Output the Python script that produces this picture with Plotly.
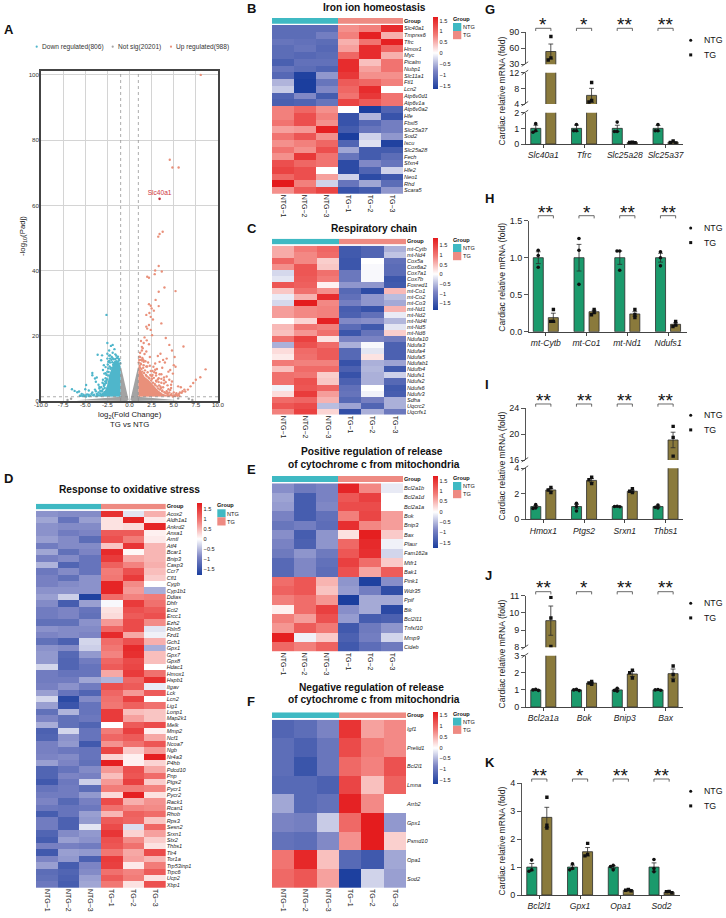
import plotly.graph_objects as go

W, H = 726, 918
FONT = "Liberation Sans"
SAMPLES = ["NTG\u22121", "NTG\u22122", "NTG\u22123", "TG\u22121", "TG\u22122", "TG\u22123"]
TEAL, SALMON = "#3FB9C3", "#EE8A82"
BAR_NTG, BAR_TG = "#1B9A6C", "#8A7A3C"

# ---------------- Volcano (panel A) ----------------
BLUE_X = [-7.3,-6.5,-6.2,-5.9,-5.7,-5.4,-5.2,-5.0,-4.8,-4.6,-4.9,-5.0,-4.6,-4.2,-4.2,-3.9,-3.8,-3.7,-3.6,-3.5,-3.4,-3.9,-4.2,-4.4,-3.2,-3.1,-3.0,-3.0,-2.9,-2.8,-2.7,-2.6,-2.5,-2.5,-2.5,-2.4,-2.4,-2.3,-2.2,-2.1,-2.0,-1.9,-1.9,-1.8,-1.7,-1.7,-1.6,-1.5,-1.4,-1.35,-2.8,-3.3,-3.6,-4.0,-3.1,-3.4,-2.9,-2.7,-2.6,-2.2,-2.1,-1.6,-1.3,-1.2,-5.6,-5.3,-4.9,-3.7,-3.2,-2.95,
          -1.15,-1.25,-1.3,-1.45,-1.55,-1.6,-1.75,-1.85,-1.95,-2.05,-2.15,-2.25,-2.3,-2.35,-2.4,-2.45,-2.5,-2.55,-2.6,-2.65,-2.7,-2.75,-2.8,-2.85,-2.9,-3.0,-3.05,-3.1,-3.2,-3.3,-3.5,-3.7,-3.8,-4.1,-4.3,-4.6,-5.1,-5.5,-1.9,-2.2,-2.3,-1.5,-1.2,-1.05]
BLUE_Y = [4.5,3.6,3.1,2.7,2.9,2.2,1.9,1.7,2.0,1.5,4.9,3.6,3.2,7.9,8.6,6.9,5.9,7.2,14.2,5.0,3.8,3.5,2.6,1.6,12.5,14.0,9.5,6.5,11.0,4.0,7.0,26.4,14.5,17.8,13.0,12.0,10.0,15.5,14.0,16.9,13.5,17.2,14.8,12.8,15.9,10.5,14.3,12.2,13.2,11.2,2.8,2.3,2.0,1.9,3.1,4.3,5.2,8.5,6.2,11.8,10.2,11.5,12.1,11.0,1.6,1.5,1.4,1.5,1.7,2.0,
          12.5,10.8,13.6,10.6,11.4,12.9,11.7,11.1,11.9,12.6,9.9,10.6,12.3,8.9,7.8,11.2,9.0,6.7,8.0,5.5,10.4,6.0,5.0,8.4,4.6,3.6,5.6,2.9,4.2,3.1,2.6,2.2,3.0,1.8,2.2,1.9,1.5,1.6,13.1,13.0,13.9,13.9,12.9,11.6]
RED_X = [8.05,4.55,4.85,5.55,3.25,3.4,3.75,3.3,2.9,2.85,3.65,2.0,2.2,3.95,5.2,3.3,2.95,2.2,2.4,3.3,2.5,2.75,2.25,1.9,2.4,2.65,3.6,2.2,1.9,2.0,2.4,2.55,1.7,1.95,2.2,1.6,1.5,1.4,1.7,1.9,1.2,1.5,8.6,8.0,7.5,7.2,6.9,6.6,6.2,6.0,5.9,5.6,5.5,5.8,6.1,5.1,5.0,4.1,4.5,4.8,4.2,5.2,4.6,4.9,4.5,4.8,4.3,4.0,3.8,3.5,3.2,2.9,3.4,3.7,3.1,2.8,3.6,4.2,4.4,3.3,3.0,2.7,2.6,3.9,4.7,5.3,5.0,4.6,4.2,3.5,2.3,2.1,1.8,2.4,1.6,1.3,1.1,1.2,1.4,1.3,2.0,2.5,3.0,3.3,3.6,3.9,4.3,4.7,5.1,5.4,6.3,5.7,5.2,4.9,4.4,3.7,1.15,1.25,1.45,1.6,
         1.05,1.1,1.2,1.3,1.35,1.45,1.55,1.65,1.75,1.85,1.95,2.05,2.15,2.25,2.35,2.45,2.55,2.65,2.75,2.85,2.95,3.05,3.15,3.25,3.35,3.45,3.55,3.7,3.8,3.95,4.1,4.3,4.5,4.6,4.75,4.95,5.15,5.3,5.5,5.65,3.0,3.2,3.4,3.6,3.9,4.1,4.4,4.7,2.6,2.9,2.3,1.9,1.6,1.4]
RED_Y = [100.0,74.0,71.6,71.6,50.4,51.2,51.9,41.4,40.0,38.9,39.7,38.1,37.8,34.8,33.7,33.5,31.0,29.7,29.2,29.1,28.4,27.7,27.0,26.4,25.8,25.0,23.8,23.3,22.8,22.2,21.8,20.2,19.5,18.6,17.4,17.8,16.2,15.5,14.4,15.2,13.5,12.8,9.7,7.3,6.5,5.5,4.5,3.5,3.5,3.0,2.5,2.2,4.5,4.2,16.7,13.5,11.0,19.3,17.2,15.5,13.0,10.5,9.5,8.4,6.5,6.0,4.8,11.8,12.6,14.5,13.8,11.5,12.0,10.2,9.8,8.8,8.2,7.5,9.0,7.0,6.2,10.5,8.0,5.4,4.0,2.0,2.6,3.4,3.0,4.4,13.5,11.8,12.2,9.2,11.0,12.6,13.6,14.8,16.6,18.4,10.6,7.6,8.6,5.8,6.8,6.4,2.4,1.8,1.6,1.6,2.9,2.6,1.8,1.4,1.6,3.2,10.8,11.5,13.2,12.4,
         11.8,12.6,10.2,11.3,9.8,9.0,10.2,8.6,9.4,8.0,7.6,8.8,7.2,6.9,8.0,6.3,6.8,5.6,7.1,5.2,4.8,6.0,4.4,3.8,4.8,3.5,4.0,3.0,4.2,2.7,2.4,2.0,2.6,1.8,2.2,1.7,1.6,2.4,1.8,1.5,7.8,6.6,8.2,5.6,7.2,5.8,3.6,5.0,9.2,9.6,10.8,10.6,12.0,12.4]
SLC_X = [3.4]
SLC_Y = [62.0]
GRAY_PT_X = [-6.6, 6.7, 5.5, -7.0, 7.1]
GRAY_PT_Y = [0.7, 0.7, 0.8, 0.3, 0.3]
GRAY_CORE_X = [-1.0,-1.0,-0.75,-0.45,-0.1,-0.3,-3.0,-6.0,-1.0,None,1.0,1.0,0.75,0.45,0.1,0.3,3.0,5.5,1.0]
GRAY_CORE_Y = [1.3,10.8,8.0,4.8,0.3,0.0,0.0,0.2,1.3,None,1.3,10.8,8.0,4.8,0.3,0.0,0.0,0.2,1.3]
BLUE_CORE_X = [-1.0,-1.0,-1.25,-1.7,-2.0,-2.3,-2.5,-2.8,-3.2,-4.2,-1.0]
BLUE_CORE_Y = [1.3,10.6,12.0,12.4,10.2,8.0,5.0,3.0,2.2,1.4,1.3]
RED_CORE_X = [1.0,1.0,1.3,1.7,2.2,2.7,3.2,3.7,4.6,1.0]
RED_CORE_Y = [1.3,10.6,9.4,7.4,6.4,4.8,3.4,2.3,1.4,1.3]

# ---------------- Heatmaps ----------------
GENES_B = ["Slc40a1","Tmprss6","Tfrc","Hmox1","Myc","Picalm","Nubp1","Slc11a1","Ftl1","Lcn2","Atp6v0d1","Atp6v1a","Atp6v0a2","Hfe","Fbxl5","Slc25a37","Sod2","Iscu","Slc25a28","Fech","Sfxn4","Hfe2","Neo1","Rhd","Scara5"]
Z_B = [
[-1.1,-1.1,-1.1,0.7,0.8,1.5],[-1.1,-1.1,-0.9,0.8,1.6,0.5],[-1.0,-1.05,-1.1,0.5,0.9,1.6],[-1.1,-1.0,-1.15,0.6,1.5,1.0],[-1.1,-1.15,-1.1,1.0,1.5,0.5],
[-1.25,-1.05,-1.05,1.5,0.4,0.9],[-1.0,-1.1,-1.2,1.5,0.6,0.9],[-1.15,-1.6,-0.7,1.4,0.7,0.7],[-0.5,-1.65,-1.0,1.1,1.0,0.8],[-0.35,-1.65,-0.8,1.0,1.5,0.0],
[-1.2,-0.8,-1.3,0.9,1.4,0.9],[-1.25,-1.2,-1.0,1.3,1.1,0.9],[0.8,1.0,0.7,0.0,-1.65,-1.2],[0.8,1.2,0.8,-1.4,-0.5,-1.4],[0.9,1.2,0.7,-1.4,-1.15,-0.9],
[0.6,0.65,1.6,-1.3,-1.0,-0.9],[0.9,1.15,0.7,-1.65,-0.3,-0.7],[0.7,0.8,1.0,-1.2,-0.2,-1.6],[0.9,0.7,1.2,-0.6,-1.3,-1.3],[0.7,1.4,0.9,-1.0,-1.3,-1.1],
[1.2,1.0,0.9,-1.5,-0.8,-1.0],[1.3,1.2,0.0,-1.5,-1.2,-0.3],[1.0,1.2,0.6,-0.3,-1.5,-1.35],[1.65,0.8,-0.3,-1.0,-0.6,-1.1],[0.7,1.1,1.3,-1.4,-1.3,-0.7]]

GENES_C = ["mt-Cytb","mt-Nd4","Cox5a","Cox6a2","Cox7a1","Cox7b","Foxred1","mt-Co1","mt-Co2","mt-Co3","mt-Nd1","mt-Nd2","mt-Nd4l","mt-Nd5","mt-Nd6","Ndufa10","Ndufa3","Ndufa4","Ndufa5","Ndufab1","Ndufb4","Ndufs1","Ndufs2","Ndufs6","Ndufv3","Sdha","Uqcrc2","Uqcrfs1"]
Z_C = [
[.6,.95,1.15,-1.5,-1.35,-.6],[.6,.85,1.1,-1.5,-1.35,-.45],[1.15,.85,.35,-1.55,0,-1.2],[.8,1.3,.4,-1.55,-.05,-1.25],[-.3,1.3,1.05,-1.1,-.05,-1.25],
[-.2,1.25,.95,-1.1,-.05,-1.55],[1.3,1.2,.1,-.8,-.8,-1.5],[.4,1.05,.8,-1.3,-1.7,.5],[-.15,.55,1.7,-1.2,-.8,-.5],[-.3,1.85,.85,-1,-.8,-.65],
[.7,.85,.9,-1.45,-1.6,.55],[.7,.85,.9,-1.4,-1.2,-.15],[0,.3,1.8,-.9,-.85,-.55],[.5,1.0,.9,-1.25,-1.5,-.2],[.45,.75,1.05,-1.55,-1.15,.35],
[1.05,1.5,.2,-.95,-.95,-1.05],[-.6,1.35,1.1,-.6,-.05,-1.4],[.25,1.1,1.25,-1.3,-.2,-1.4],[.15,1.05,1.25,-1.3,.2,-1.4],[.95,.9,.9,-1.6,-.6,-.7],
[.45,1.1,1.1,-1.4,-.55,-1.5],[1.05,1.0,.35,-1.6,-.6,-.35],[1.05,1.35,.4,-1.4,-.6,-1.3],[-.1,1.3,1.15,-1.2,0,-1.5],[.25,1.55,.7,-1.15,-.1,-1.45],
[1.1,1.15,.55,-1.3,-1.0,-.6],[1.3,1.4,-.5,-.7,-1.35,-.6],[.9,1.5,.3,-1.65,-.6,-1.1]]

GENES_D = ["Acox2","Aldh1a1","Ankrd2","Anxa1","Arntl","Atf4","Bcar1","Bnip3","Casp3","Ccr7","Cfl1","Cygb","Cyp1b1","Ddias","Dhfr","Ect2","Ercc1","Ezh2","Fbln5","Fzd1","Gch1","Gpx1","Gpx7","Gpx8","Hdac1","Hmox1","Hspb1","Itgav","Lck","Lcn2","Lig1","Lonp1","Map2k1","Melk","Mmp2","Ncf1","Ncoa7","Ngb","Nr4a3","P4hb","Pdcd10","Pnp","Ptgs2","Pycr1","Pycr2","Rack1","Rcan1","Rhob","Rps3","Sesn2","Srxn1","Stx2","Thbs1","Tlr4","Tor1a","Trp53inp1","Trpc6","Ucp2","Xbp1"]
Z_D = [
[-.8,-.85,-.85,1.6,-.2,.55],[-.65,-1.1,-.7,.2,1.7,.15],[-.8,-.85,-.85,.2,.25,1.7],[-.8,-1.0,-.9,1.2,1.2,.1],[-.7,-.85,-1.2,1.3,.9,.15],
[-1.0,-.85,-.85,.4,1.55,.5],[-.65,-1.15,-.9,1.65,.05,.5],[-.95,-.85,-1.1,1.5,.6,.5],[-.55,-1.3,-1.1,1.15,.85,.55],[-1.05,-.85,-1.1,.9,1.3,.45],
[-.95,-1.15,-.8,.95,1.5,.35],[-.95,-.85,-.8,1.7,.8,.0],[-.8,-.8,-.8,1.7,.7,-.6],[-.7,-.35,-1.75,1.05,.85,.9],[-.85,-1.4,-.7,-.05,1.5,1.0],
[-1.0,-.9,-1.1,.2,1.3,1.2],[-1.0,-.9,-1.15,.25,1.2,1.3],[-1.15,-1.15,-.8,.7,1.35,.8],[-.8,-.85,-.85,1.1,1.35,-.2],[-.9,-.85,-.9,1.65,.6,-.1],
[-1.15,-1.35,-.3,1.05,1.3,.55],[-.8,-.85,-.35,.95,1.65,-.6],[-.75,-1.25,-.75,.85,1.6,.45],[-.75,-1.3,-1.0,1.1,1.35,.45],[-.3,-1.3,-1.1,1.2,1.4,0],
[-1.0,-1.1,-1.1,.6,1.5,1.0],[-1.0,-1.0,-.65,-.55,1.1,1.6],[-.95,-.8,-1.0,1.3,1.2,-.15],[-.7,-1.1,-1.3,1.1,.7,1.2],[-.3,-1.65,-.85,1.0,1.45,0],
[-.7,-1.5,-1.1,.95,1.15,1.0],[-1.15,-.55,-1.1,1.5,.45,.4],[-.9,-1.15,-1.05,1.5,.65,.4],[-.6,-1.15,-1.3,0,1.2,1.35],[-1.35,-.3,-1.1,.9,1.45,.1],
[-1.3,-.8,-1.1,1.1,1.2,.6],[-.95,-.75,-1.45,.75,1.0,1.25],[-.95,-1.05,-1.1,1.4,.35,.7],[-.9,-.85,-1.1,.3,.1,1.75],[-.7,-.9,-1.15,1.75,.1,.3],
[-1.3,-1.1,-.85,.7,1.3,.6],[-1.3,-.9,-.95,.45,1.25,1.05],[-1.45,-1.05,-.35,.7,1.45,.35],[-1.1,-1.0,-1.2,.9,.9,.85],[-1.0,-1.0,-.75,.25,1.75,.2],
[-.9,-1.25,-.95,1.35,.55,.75],[-1.05,-1.1,-1.05,1.0,.85,.8],[-1.4,-1.1,-.7,.5,1.15,1.05],[-1.0,-1.35,-.75,1.2,1.1,.4],[-1.0,-1.35,-.2,1.35,-.25,1.1],
[-1.3,-.85,-.75,1.55,.3,.65],[-1.4,-.7,-.8,1.3,.8,.35],[-.95,-.95,-1.0,1.25,1.0,.2],[-1.45,-.7,-.75,.95,.6,1.35],[-.9,-.75,-1.35,1.5,.65,.5],
[-.7,-1.4,-.9,1.45,.15,.9],[-1.2,-1.3,-.85,1.0,.85,1.2],[-1.15,-1.35,-.7,1.2,.9,.2],[-1.05,-1.4,-.65,.95,.2,1.3]]

GENES_E = ["Bcl2a1b","Bcl2a1d","Bcl2a1a","Bok","Bnip3","Bax","Plaur","Fam162a","Mtfr1","Bak1","Pink1","Wdr35","Ppif","Bik","Bcl2l11","Tnfsf10","Mmp9","Cideb"]
Z_E = [
[-.8,-1.0,-.9,1.65,.8,-.15],[-.65,-1.35,-.9,1.2,1.4,0],[-.7,-1.35,-.85,1.3,1.3,0],[-.9,-1.35,-1.1,.85,1.35,.65],[-1.05,-.95,-1.15,1.55,.8,.65],
[-.8,-1.35,-.75,.2,1.7,.35],[-.9,-1.3,-.75,1.05,1.6,-.1],[-1.0,-.75,-1.0,1.2,1.55,-.3],[-1.2,-.85,-1.1,1.4,1.0,.35],[-1.2,-.85,-1.15,1.25,.6,1.15],
[1.0,1.2,.5,-.75,-1.7,-.8],[1.1,1.2,.4,-.7,-.95,-1.55],[.85,1.0,.7,-1.75,-.6,-.6],[.1,1.0,1.4,-.8,-.6,-1.6],[.85,.65,1.25,-.7,-1.35,-1.3],
[.7,1.15,.9,-1.4,-1.0,-.75],[1.7,-.1,.35,-1.3,-.95,-.3],[1.05,.85,1.1,-1.4,-1.15,-1.0]]

GENES_F = ["Igf1","Prelid1","Bcl2l1","Lmna","Arrb2","Gpx1","Psmd10","Opa1","Sod2"]
Z_F = [
[-1.2,-1.1,-.85,1.45,.6,.75],[-1.1,-1.25,-1.0,1.25,.85,.75],[-1.1,-1.4,-1.0,1.0,.8,1.2],[-1.15,-1.15,-1.25,1.3,.4,1.05],[-.6,-1.15,-1.05,1.6,.75,0],
[-.85,-.9,-.35,1.0,1.65,-.7],[-1.05,-1.1,-.8,.7,1.65,.3],[.9,1.55,.4,-1.15,-1.35,-.6],[1.0,1.15,.6,-1.65,-.3,-.65]]

COLORBAR_TICKS = [-1.5,-1,-.5,0,.5,1,1.5]
HEAT_SCALE = [[0,"#1B3E9E"],[.25,"#7C84C4"],[.5,"#FFFFFF"],[.75,"#F27C78"],[1,"#E41A1C"]]

# ---------------- Bars ----------------
G_GENES = ["Slc40a1","Tfrc","Slc25a28","Slc25a37"]
G_NTG = [1,1,1,1]; G_TG = [54,6.2,.1,.12]
G_NTG_ERR = [.2,.2,.2,.18]; G_TG_ERR = [14,1.8,.04,.04]
G_NTG_DOTS = [[1.3,.85,.75],[1.25,.85,.85],[1.4,.8,.8],[1.25,.85,.85]]
G_TG_DOTS = [[82,42,38],[9.5,4.9,4.5],[.12,.1,.08],[.2,.1,.06]]
G_STARS = ["*","*","**","**"]

H_GENES = ["mt-Cytb","mt-Co1","mt-Nd1","Ndufs1"]
H_NTG = [1,1,1,1]; H_TG = [.19,.27,.24,.1]
H_NTG_ERR = [.08,.18,.09,.06]; H_TG_ERR = [.06,.02,.03,.02]
H_NTG_DOTS = [[1.1,1.03,.87],[1.26,1.1,.64],[1.09,1.09,.83],[1.08,1.0,.89]]
H_TG_DOTS = [[.3,.14,.14],[.3,.26,.23],[.3,.23,.19],[.14,.09,.07]]
H_STARS = ["**","*","**","**"]

I_GENES = ["Hmox1","Ptgs2","Srxn1","Thbs1"]
I_NTG = [1,1,1,1]; I_TG = [2.3,3.05,2.2,19.1]
I_NTG_ERR = [.08,.17,.01,.06]; I_TG_ERR = [.12,.14,.08,1.2]
I_NTG_DOTS = [[1.15,.9,.85],[1.25,1.0,.65],[1.02,1.0,.98],[1.12,.95,.9]]
I_TG_DOTS = [[2.5,2.3,2.1],[3.3,3.1,2.8],[2.4,2.2,2.1],[21.2,19.5,16.6]]
I_STARS = ["**","**","**","**"]

J_GENES = ["Bcl2a1a","Bok","Bnip3","Bax"]
J_NTG = [1,1,1,1]; J_TG = [9.55,1.4,1.93,1.95]
J_NTG_ERR = [.03,.03,.06,.01]; J_TG_ERR = [.85,.05,.15,.27]
J_NTG_DOTS = [[1.03,1.0,.97],[1.03,1.0,.96],[1.1,.97,.93],[1.02,1.0,.98]]
J_TG_DOTS = [[10.9,9.7,8.05],[1.5,1.4,1.33],[2.15,2.0,1.7],[2.4,1.9,1.55]]
J_STARS = ["**","*","**","**"]

K_GENES = ["Bcl2l1","Gpx1","Opa1","Sod2"]
K_NTG = [1,1,1,1]; K_TG = [2.78,1.55,.17,.1]
K_NTG_ERR = [.13,.07,.05,.15]; K_TG_ERR = [.36,.15,.03,.02]
K_NTG_DOTS = [[1.25,.9,.85],[1.12,.95,.9],[1.06,1.02,.9],[1.27,.95,.83]]
K_TG_DOTS = [[3.5,2.5,2.4],[1.85,1.45,1.4],[.2,.17,.15],[.13,.12,.08]]
K_STARS = ["**","*","**","**"]

# ---------------- Helpers ----------------
fig = go.Figure()
layout = {}
annots, shapes = [], []
_n = [0]

def px(x): return x / W
def py(y): return 1 - y / H

def new_axes(x0, x1, y0, y1, xa, ya):
    """Axis pair whose plot area is the pixel box x0..x1, y0(top)..y1(bottom)."""
    _n[0] += 1
    s = "" if _n[0] == 1 else str(_n[0])
    xa = dict(domain=[px(x0), px(x1)], anchor="y" + s, **xa)
    ya = dict(domain=[py(y1), py(y0)], anchor="x" + s, **ya)
    layout["xaxis" + s] = xa
    layout["yaxis" + s] = ya
    return "x" + s, "y" + s

def text(x, y, t, size, bold=False, anchor="left", angle=0, color="#111", italic=False):
    if bold: t = "<b>" + t + "</b>"
    if italic: t = "<i>" + t + "</i>"
    annots.append(dict(x=px(x), y=py(y), xref="paper", yref="paper", text=t, showarrow=False,
                       xanchor=anchor, yanchor="middle", textangle=angle, borderpad=0, borderwidth=0,
                       font=dict(family=FONT, size=size, color=color)))

def rect(x0, y0, x1, y1, color):
    shapes.append(dict(type="rect", xref="paper", yref="paper", x0=px(x0), x1=px(x1), y0=py(y1), y1=py(y0),
                       fillcolor=color, line=dict(width=0), layer="above"))

def line(x0, y0, x1, y1, color="#444", width=.9):
    shapes.append(dict(type="line", xref="paper", yref="paper", x0=px(x0), x1=px(x1), y0=py(y0), y1=py(y1),
                       line=dict(color=color, width=width), layer="above"))

def dot(cx, cy, r, color="#111", square=False):
    shapes.append(dict(type="rect" if square else "circle", xref="paper", yref="paper",
                       x0=px(cx - r), x1=px(cx + r), y0=py(cy + r), y1=py(cy - r),
                       fillcolor=color, line=dict(width=0), layer="above"))

def heatmap(genes, z, x0, x1, by0, by1, y0, y1, rng, cb_top, cb_bot, cb_x, lx, ly, label_size=5.6):
    n = len(genes)
    # group annotation strip
    xa, ya = new_axes(x0, x1, by0, by1,
                      dict(range=[-.5, 5.5], showticklabels=False, ticks="", showgrid=False, zeroline=False),
                      dict(range=[-.5, .5], side="right", tickvals=[0], ticktext=["<b>Group</b>"], ticks="",
                           showgrid=False, zeroline=False, tickfont=dict(family=FONT, size=5.6, color="#111")))
    fig.add_trace(go.Heatmap(z=[[0, 0, 0, 1, 1, 1]], x=list(range(6)), y=[0], xaxis=xa, yaxis=ya, zmin=0, zmax=1,
                             colorscale=[[0, TEAL], [.5, TEAL], [.5, SALMON], [1, SALMON]], showscale=False,
                             hoverinfo="skip"))
    # main matrix
    xa, ya = new_axes(x0, x1, y0, y1,
                      dict(range=[-.5, 5.5], tickvals=list(range(6)), ticktext=SAMPLES, tickangle=90, ticks="",
                           showgrid=False, zeroline=False, tickfont=dict(family=FONT, size=7, color="#222")),
                      dict(range=[n - .5, -.5], side="right", tickvals=list(range(n)),
                           ticktext=["<i>%s</i>" % g for g in genes], ticks="", showgrid=False, zeroline=False,
                           tickfont=dict(family=FONT, size=label_size, color="#222")))
    fig.add_trace(go.Heatmap(z=z, x=list(range(6)), y=list(range(n)), xaxis=xa, yaxis=ya, zmin=-rng, zmax=rng,
                             colorscale=HEAT_SCALE,
                             colorbar=dict(x=px(cb_x), xanchor="left", xpad=0, y=py(cb_top), yanchor="top", ypad=0,
                                           len=cb_bot - cb_top, lenmode="pixels", thickness=4.6, thicknessmode="pixels",
                                           outlinewidth=0, tickvals=COLORBAR_TICKS, ticks="",
                                           tickfont=dict(family=FONT, size=5.6, color="#222"))))
    # group legend
    text(lx, ly, "Group", 5.6, bold=True)
    rect(lx, ly + 4, lx + 8.3, ly + 12, TEAL)
    rect(lx, ly + 12, lx + 8.3, ly + 20.2, SALMON)
    text(lx + 10, ly + 8.2, "NTG", 5.6)
    text(lx + 10, ly + 16.4, "TG", 5.6)

def bar_panel(genes, ntg, tg, ntg_err, tg_err, ntg_dots, tg_dots, stars, segs, spine_x, end_x, c0, ticks_by_seg,
              br_top, star_y, leg_y, title_y):
    step = 40.75
    xr = [(spine_x - c0) / step, (end_x - c0) / step]
    half = 7.6 / step
    pos = list(range(4))

    def val2px(v):
        for lo, hi, yb, yt in segs:
            if lo <= v <= hi:
                return yb + (v - lo) / (hi - lo) * (yt - yb)
        return segs[0][2]

    def swarm(vals, centre):
        placed, xs = [], []
        for v in vals:
            yy = val2px(v)
            for off in (0, -2.7, 2.7, -5.2, 5.2):
                if all((off - o) ** 2 + (yy - p) ** 2 >= 2.6 ** 2 for o, p in placed):
                    break
            placed.append((off, yy))
            xs.append(centre + off / step)
        return xs

    nx, ny, tx, ty = [], [], [], []
    for i in pos:
        nx += swarm(ntg_dots[i], i - half); ny += ntg_dots[i]
        tx += swarm(tg_dots[i], i + half); ty += tg_dots[i]

    first = True
    for (lo, hi, yb, yt), tv in zip(segs, ticks_by_seg):
        xaxis = dict(range=xr, showgrid=False, zeroline=False)
        if first:
            xaxis.update(tickvals=pos, ticktext=["<i>%s</i>" % g for g in genes], ticks="outside", ticklen=3,
                         tickwidth=.9, tickcolor="#444", showline=True, linecolor="#444", linewidth=1.1,
                         tickfont=dict(family=FONT, size=8.6, color="#222"))
        else:
            xaxis.update(showticklabels=False, ticks="", showline=False)
        xa, ya = new_axes(spine_x, end_x, yt, yb, xaxis,
                          dict(range=[lo, hi], tickvals=tv, ticktext=[str(v) for v in tv], ticks="outside", ticklen=3.5,
                               tickwidth=.9, tickcolor="#555", showline=True, linecolor="#555", linewidth=1.1,
                               showgrid=False, zeroline=False,
                               tickfont=dict(family=FONT, size=9, color="#222")))
        for name, vals, err, col in (("NTG", ntg, ntg_err, BAR_NTG), ("TG", tg, tg_err, BAR_TG)):
            fig.add_trace(go.Bar(x=pos, y=vals, name=name, xaxis=xa, yaxis=ya, showlegend=False, marker_color=col,
                                 marker_line=dict(color="#2B2B2B", width=.8),
                                 error_y=dict(type="data", array=err, visible=True, thickness=.8, width=2.4, color="#2B2B2B")))
        fig.add_trace(go.Scatter(x=nx, y=ny, mode="markers", xaxis=xa, yaxis=ya, showlegend=False, name="NTG",
                                 marker=dict(color="#111", size=3.6, symbol="circle")))
        fig.add_trace(go.Scatter(x=tx, y=ty, mode="markers", xaxis=xa, yaxis=ya, showlegend=False, name="TG",
                                 marker=dict(color="#111", size=3.4, symbol="square")))
        first = False
    # axis break marks
    for lo, hi, yb, yt in segs[:-1]:
        line(spine_x - 4, yt + 2, spine_x + 2.5, yt - 2.5, "#444", .9)
    for lo, hi, yb, yt in segs[1:]:
        line(spine_x - 4, yb + 2, spine_x + 2.5, yb - 2.5, "#444", .9)
    # significance brackets
    for i, st in enumerate(stars):
        cx = c0 + i * step
        shapes.append(dict(type="path", xref="paper", yref="paper", layer="above",
                           path="M %f,%f L %f,%f L %f,%f L %f,%f" % (
                               px(cx - 7.6), py(br_top + 2.7), px(cx - 7.6), py(br_top),
                               px(cx + 7.6), py(br_top), px(cx + 7.6), py(br_top + 2.7)),
                           line=dict(color="#444", width=.8)))
        text(cx, star_y + 4.5, st, 19, anchor="center", color="#111")
    text(501.7, title_y, "Cardiac relative mRNA (fold)", 8.6, anchor="center", angle=-90, color="#222")
    dot(690.7, leg_y, 1.5)
    dot(690.7, leg_y + 14.6, 1.5, square=True)
    text(703.7, leg_y, "NTG", 8.8)
    text(703.7, leg_y + 14.6, "TG", 8.8)

# ---------------- Panel A ----------------
xa, ya = new_axes(41, 218, 71, 401,
                  dict(range=[-10, 10], tickvals=[-10,-7.5,-5,-2.5,0,2.5,5,7.5,10],
                       ticktext=["-10.0","-7.5","-5.0","-2.5","0.0","2.5","5.0","7.5","10.0"],
                       showgrid=True, gridcolor="#D4D4D4", gridwidth=1, zeroline=False, ticks="", ticklabelstandoff=-3,
                       showline=True, mirror=True, linecolor="#444", linewidth=1.6,
                       tickfont=dict(family=FONT, size=6.2, color="#333")),
                  dict(range=[0, 101.2], tickvals=[0,20,40,60,80,100], showgrid=True, gridcolor="#D4D4D4", gridwidth=1,
                       zeroline=False, ticks="", ticklabelstandoff=-1, showline=True, mirror=True,
                       linecolor="#444", linewidth=1.6, tickfont=dict(family=FONT, size=6.2, color="#333")))
for cx, cy, col in ((GRAY_CORE_X, GRAY_CORE_Y, "#A3A3A3"), (BLUE_CORE_X, BLUE_CORE_Y, "#4FB6CB"), (RED_CORE_X, RED_CORE_Y, "#E9907A")):
    fig.add_trace(go.Scatter(x=cx, y=cy, mode="lines", fill="toself", fillcolor=col, line=dict(width=0),
                             xaxis=xa, yaxis=ya, showlegend=False, hoverinfo="skip"))
for sx, sy, col, nm in ((GRAY_PT_X, GRAY_PT_Y, "#A3A3A3", "Not sig"), (BLUE_X, BLUE_Y, "#4FB6CB", "Down regulated"), (RED_X, RED_Y, "#E9907A", "Up regulated")):
    fig.add_trace(go.Scatter(x=sx, y=sy, mode="markers", xaxis=xa, yaxis=ya, showlegend=False, name=nm,
                             marker=dict(color=col, size=2.4)))
fig.add_trace(go.Scatter(x=SLC_X, y=SLC_Y, mode="markers+text", text=["Slc40a1"], textposition="top center", xaxis=xa, yaxis=ya,
                         showlegend=False, marker=dict(color="#C0303A", size=2.6),
                         textfont=dict(family=FONT, size=6.6, color="#D0343C")))
for v in (-1, 1):
    shapes.append(dict(type="line", xref=xa, yref="y", x0=v, x1=v, y0=0, y1=101.2, line=dict(color="#888", width=.7, dash="dot")))
shapes.append(dict(type="line", xref=xa, yref="y", x0=-10, x1=10, y0=1.3, y1=1.3, line=dict(color="#888", width=.7, dash="dot")))
text(4, 30, "A", 13, bold=True)
dot(36.7, 46.7, 1.1, "#4FB6CB"); text(41.7, 46.7, "Down regulated(806)", 6.6, color="#333")
dot(112.7, 46.7, 1.1, "#A3A3A3"); text(118, 46.7, "Not sig(20201)", 6.6, color="#333")
dot(171, 46.7, 1.1, "#E9907A"); text(176, 46.7, "Up regulated(988)", 6.6, color="#333")
text(129.7, 415.5, "log<sub>2</sub>(Fold Change)", 7.8, anchor="center", color="#222")
text(129.7, 424, "TG vs NTG", 7.8, anchor="center", color="#222")
text(23, 236, "-log<sub>10</sub>(Padj)", 7.8, anchor="center", angle=-90, color="#222")

# ---------------- Heatmap panels ----------------
heatmap(GENES_B, Z_B, 272, 403, 18, 23.7, 25, 193.7, 1.65, 17.3, 89.3, 432.7, 453, 19)
text(374, 7, "Iron ion homeostasis", 10.2, bold=True, anchor="center")
text(247, 9, "B", 13, bold=True)

heatmap(GENES_C, Z_C, 272, 406, 238.7, 244.3, 245.7, 414.7, 1.87, 238.3, 310.7, 432.7, 453, 240)
text(374, 228, "Respiratory chain", 10.2, bold=True, anchor="center")
text(247, 228, "C", 13, bold=True)

heatmap(GENES_E, Z_E, 272, 403, 476, 482, 483.3, 651.7, 1.74, 475.7, 547.7, 432.7, 453, 478)
text(372, 451.7, "Positive regulation of release", 10.2, bold=True, anchor="center")
text(374, 464, "of cytochrome c from mitochondria", 10.2, bold=True, anchor="center")
text(247, 469, "E", 13, bold=True)

heatmap(GENES_F, Z_F, 272, 406, 712.3, 718, 719.7, 888, 1.67, 711.7, 784, 432.7, 453, 713.7)
text(372, 687.3, "Negative regulation of release", 10.2, bold=True, anchor="center")
text(374, 699.7, "of cytochrome c from mitochondria", 10.2, bold=True, anchor="center")
text(247, 701, "F", 13, bold=True)

heatmap(GENES_D, Z_D, 36, 165.7, 503.7, 509.3, 510.7, 888, 1.8, 503.3, 575.3, 196.7, 217.3, 505.3)
text(129, 490, "Response to oxidative stress", 10.2, bold=True, anchor="center")
text(4, 479, "D", 13, bold=True)

# ---------------- Bar panels ----------------
bar_panel(G_GENES, G_NTG, G_TG, G_NTG_ERR, G_TG_ERR, G_NTG_DOTS, G_TG_DOTS, G_STARS,
          [(0, 2, 144, 112.7), (4, 12, 104, 72.7), (30, 90, 64.3, 32.3)], 525.7, 683.3, 543.3,
          [[0, 1, 2], [4, 8, 12], [30, 60, 90]], 28.3, 20, 40.3, 90.8)
text(485, 9.3, "G", 13, bold=True)

bar_panel(H_GENES, H_NTG, H_TG, H_NTG_ERR, H_TG_ERR, H_NTG_DOTS, H_TG_DOTS, H_STARS,
          [(0, 1.5, 331.7, 220.7)], 528.7, 686.7, 545.8,
          [[0.0, 0.5, 1.0, 1.5]], 215.7, 208, 228, 277)
text(485, 199, "H", 13, bold=True)

bar_panel(I_GENES, I_NTG, I_TG, I_NTG_ERR, I_TG_ERR, I_NTG_DOTS, I_TG_DOTS, I_STARS,
          [(0, 4, 519.3, 468.3), (16, 24, 460, 408.3)], 525.7, 683.3, 543.3,
          [[0, 2, 4], [16, 20, 24]], 404, 396, 415.3, 465.8)
text(485, 384, "I", 13, bold=True)

bar_panel(J_GENES, J_NTG, J_TG, J_NTG_ERR, J_TG_ERR, J_NTG_DOTS, J_TG_DOTS, J_STARS,
          [(0, 3, 707, 655.7), (8, 11, 647.3, 595.7)], 525.7, 683.3, 543.3,
          [[0, 1, 2, 3], [8, 9, 10, 11]], 591.7, 583.3, 603.3, 653.7)
text(485, 575.7, "J", 13, bold=True)

bar_panel(K_GENES, K_NTG, K_TG, K_NTG_ERR, K_TG_ERR, K_NTG_DOTS, K_TG_DOTS, K_STARS,
          [(0, 4, 895, 783.3)], 521.7, 680, 539.3,
          [[0, 1, 2, 3, 4]], 779, 771, 791.3, 840.8)
text(485, 762.7, "K", 13, bold=True)

fig.update_layout(width=W, height=H, margin=dict(l=0, r=0, t=0, b=0, autoexpand=False), autosize=False,
                  paper_bgcolor="white", plot_bgcolor="white", showlegend=False,
                  barmode="group", bargap=.263, bargroupgap=.333,
                  font=dict(family=FONT), annotations=annots, shapes=shapes, **layout)
fig.write_html("out.html", config={"displayModeBar": False}, post_script="document.body.style.margin='0';")
